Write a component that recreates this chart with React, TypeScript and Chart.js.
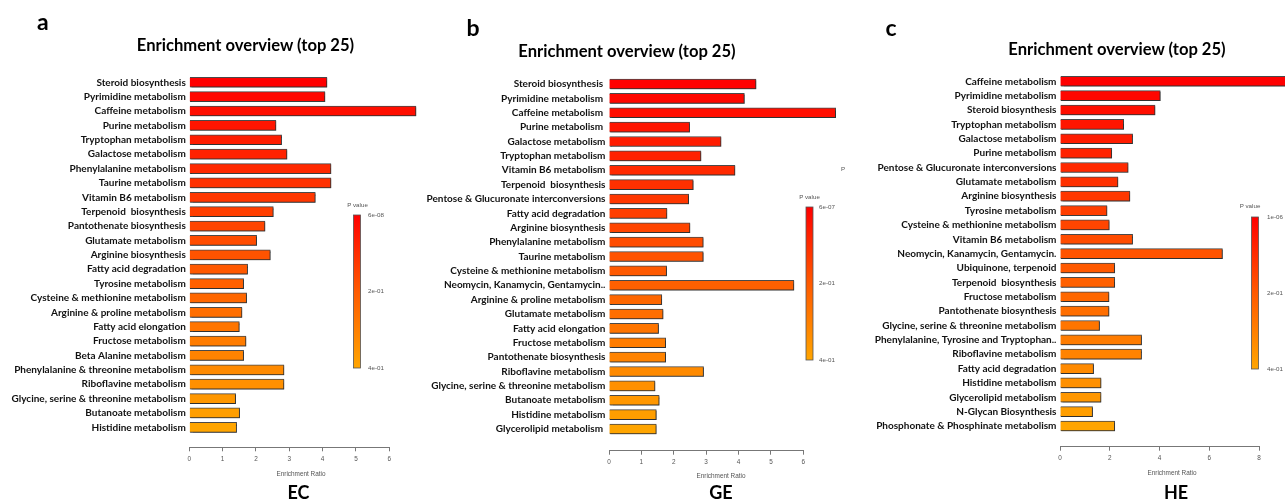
import React, { useEffect, useRef } from "react";
import { Chart, registerables } from "chart.js";

Chart.register(...registerables);

// ---------------- DATA ----------------
const ecLabels = [
  "Steroid biosynthesis",
  "Pyrimidine metabolism",
  "Caffeine metabolism",
  "Purine metabolism",
  "Tryptophan metabolism",
  "Galactose metabolism",
  "Phenylalanine metabolism",
  "Taurine metabolism",
  "Vitamin B6 metabolism",
  "Terpenoid  biosynthesis",
  "Pantothenate biosynthesis",
  "Glutamate metabolism",
  "Arginine biosynthesis",
  "Fatty acid degradation",
  "Tyrosine metabolism",
  "Cysteine & methionine metabolism",
  "Arginine & proline metabolism",
  "Fatty acid elongation",
  "Fructose metabolism",
  "Beta Alanine metabolism",
  "Phenylalanine & threonine metabolism",
  "Riboflavine metabolism",
  "Glycine, serine & threonine metabolism",
  "Butanoate metabolism",
  "Histidine metabolism",
];
const ecValues = [
  4.13, 4.07, 6.8, 2.6, 2.77, 2.93, 4.25, 4.25, 3.78, 2.52, 2.27, 2.02, 2.43,
  1.75, 1.63, 1.72, 1.58, 1.5, 1.7, 1.63, 2.84, 2.84, 1.39, 1.51, 1.42,
];

const geLabels = [
  "Steroid biosynthesis ",
  "Pyrimidine metabolism ",
  "Caffeine metabolism ",
  "Purine metabolism ",
  "Galactose metabolism",
  "Tryptophan metabolism",
  "Vitamin B6 metabolism",
  "Terpenoid  biosynthesis",
  "Pentose & Glucuronate interconversions",
  "Fatty acid degradation",
  "Arginine biosynthesis",
  "Phenylalanine metabolism",
  "Taurine metabolism",
  "Cysteine & methionine metabolism",
  "Neomycin, Kanamycin, Gentamycin..",
  "Arginine & proline metabolism",
  "Glutamate metabolism",
  "Fatty acid elongation",
  "Fructose metabolism",
  "Pantothenate biosynthesis",
  "Riboflavine metabolism",
  "Glycine, serine & threonine metabolism",
  "Butanoate metabolism",
  "Histidine metabolism",
  "Glycerolipid metabolism ",
];
const geValues = [
  4.54, 4.18, 7.0, 2.49, 3.46, 2.84, 3.89, 2.6, 2.46, 1.79, 2.5, 2.91, 2.91,
  1.78, 5.71, 1.63, 1.67, 1.53, 1.75, 1.75, 2.92, 1.42, 1.55, 1.46, 1.46,
];

const heLabels = [
  "Caffeine metabolism",
  "Pyrimidine metabolism",
  "Steroid biosynthesis",
  "Tryptophan metabolism",
  "Galactose metabolism",
  "Purine metabolism",
  "Pentose & Glucuronate interconversions",
  "Glutamate metabolism",
  "Arginine biosynthesis",
  "Tyrosine metabolism",
  "Cysteine & methionine metabolism",
  "Vitamin B6 metabolism",
  "Neomycin, Kanamycin, Gentamycin.",
  "Ubiquinone, terpenoid",
  "Terpenoid  biosynthesis",
  "Fructose metabolism",
  "Pantothenate biosynthesis",
  "Glycine, serine & threonine metabolism",
  "Phenylalanine, Tyrosine and Tryptophan..",
  "Riboflavine metabolism",
  "Fatty acid degradation",
  "Histidine metabolism",
  "Glycerolipid metabolism",
  "N-Glycan Biosynthesis",
  "Phosphonate & Phosphinate metabolism",
];
const heValues = [
  9.3, 4.03, 3.82, 2.56, 2.92, 2.08, 2.74, 2.33, 2.81, 1.89, 1.98, 2.92, 6.53,
  2.2, 2.2, 1.97, 1.97, 1.59, 3.28, 3.28, 1.35, 1.65, 1.65, 1.31, 2.2,
];

const ecTicks = [0, 1, 2, 3, 4, 5, 6];
const geTicks = [0, 1, 2, 3, 4, 5, 6];
const heTicks = [0, 2, 4, 6, 8];

const ecPLabels = ["6e-08", "2e-01", "4e-01"];
const gePLabels = ["6e-07", "2e-01", "4e-01"];
const hePLabels = ["1e-06", "2e-01", "4e-01"];

const panelLetters = ["a", "b", "c"];
const panelNames = ["EC", "GE", "HE"];
const titleText = "Enrichment overview (top 25)";
const xTitle = "Enrichment Ratio";
const legendTitle = "P value";

// ---------------- STYLE / LAYOUT ----------------
const H = 499;
const LATO = "Lato, 'Open Sans', sans-serif";
const SANS = "'Liberation Sans', Arial, sans-serif";

function barColors(n: number): string[] {
  const out: string[] = [];
  for (let i = 0; i < n; i++) {
    const g = Math.round((165 * i) / (n - 1));
    out.push(`rgb(255,${g},0)`);
  }
  return out;
}

type Spec = {
  left: number;
  width: number;
  plotLeft: number;
  plotRight: number;
  plotTop: number;
  axisY: number;
  yMax: number;
  xMax: number;
  labels: string[];
  values: number[];
  ticks: number[];
  pLabels: string[];
  cb: { x: number; y: number; w: number; h: number; titleX: number; titleY: number; labelX: number; extra?: { t: string; x: number; y: number } };
};

const specs: Spec[] = [
  {
    left: 0,
    width: 430,
    plotLeft: 189.3,
    plotRight: 389.3,
    plotTop: 75.1,
    axisY: 447.3,
    yMax: 25.39,
    xMax: 6,
    labels: ecLabels,
    values: ecValues,
    ticks: ecTicks,
    pLabels: ecPLabels,
    cb: { x: 353.5, y: 215, w: 7, h: 153, titleX: 357.5, titleY: 205, labelX: 368 },
  },
  {
    left: 420,
    width: 440,
    plotLeft: 189,
    plotRight: 383.3,
    plotTop: 76.8,
    axisY: 450.7,
    yMax: 25.51,
    xMax: 6,
    labels: geLabels,
    values: geValues,
    ticks: geTicks,
    pLabels: gePLabels,
    cb: { x: 386, y: 207, w: 7, h: 153, titleX: 389.5, titleY: 197, labelX: 399, extra: { t: "P", x: 421, y: 169 } },
  },
  {
    left: 860,
    width: 425,
    plotLeft: 200,
    plotRight: 399,
    plotTop: 74.1,
    axisY: 446.7,
    yMax: 25.44,
    xMax: 8,
    labels: heLabels,
    values: heValues,
    ticks: heTicks,
    pLabels: hePLabels,
    cb: { x: 391.5, y: 217, w: 7, h: 152, titleX: 390, titleY: 206, labelX: 407 },
  },
];

const X_AXIS_H = 20;

function BarPanel({ spec }: { spec: Spec }) {
  const ref = useRef<HTMLCanvasElement>(null);
  useEffect(() => {
    const canvas = ref.current;
    if (!canvas) return;
    const colors = barColors(spec.values.length);

    const shadowPlugin = {
      id: "barShadow",
      beforeDatasetsDraw(chart: any) {
        const c = chart.ctx;
        c.save();
        c.shadowColor = "rgba(0,0,0,0.35)";
        c.shadowOffsetX = 1;
        c.shadowOffsetY = 1;
        c.shadowBlur = 1;
      },
      afterDatasetsDraw(chart: any) {
        chart.ctx.restore();
      },
    };

    const colorbarPlugin = {
      id: "colorbar",
      afterDraw(chart: any) {
        const c = chart.ctx as CanvasRenderingContext2D;
        const cb = spec.cb;
        c.save();
        const grad = c.createLinearGradient(0, cb.y, 0, cb.y + cb.h);
        grad.addColorStop(0, "#ff0000");
        grad.addColorStop(0.5, "#ff5a00");
        grad.addColorStop(1, "#ffa500");
        c.fillStyle = grad;
        c.fillRect(cb.x, cb.y, cb.w, cb.h);
        c.strokeStyle = "#555";
        c.lineWidth = 0.8;
        c.strokeRect(cb.x, cb.y, cb.w, cb.h);
        c.fillStyle = "#555";
        c.font = `6.2px ${SANS}`;
        c.textBaseline = "middle";
        c.textAlign = "center";
        c.fillText(legendTitle, cb.titleX, cb.titleY);
        c.textAlign = "left";
        const ys = [cb.y, cb.y + cb.h / 2, cb.y + cb.h];
        spec.pLabels.forEach((t, i) => c.fillText(t, cb.labelX, ys[i]));
        if (cb.extra) {
          c.fillText(cb.extra.t, cb.extra.x, cb.extra.y);
        }
        c.restore();
      },
    };

    const chart = new Chart(canvas, {
      type: "bar",
      data: {
        datasets: [
          {
            data: spec.values.map((v, i) => ({ x: v, y: i })),
            backgroundColor: colors,
            borderColor: "#4a4a4a",
            borderWidth: 1,
            barThickness: 10,
            clip: false as any,
          } as any,
        ],
      },
      options: {
        indexAxis: "y",
        animation: false,
        responsive: false,
        maintainAspectRatio: false,
        devicePixelRatio: 1,
        events: [],
        layout: {
          padding: {
            left: 0,
            right: spec.width - spec.plotRight,
            top: spec.plotTop,
            bottom: H - spec.axisY - X_AXIS_H,
          },
        },
        plugins: {
          legend: { display: false },
          tooltip: { enabled: false },
          title: { display: false },
        },
        scales: {
          y: {
            type: "linear",
            reverse: true,
            offset: false,
            bounds: "data",
            min: -0.5,
            max: spec.yMax,
            afterFit: (s: any) => {
              s.width = spec.plotLeft;
            },
            afterBuildTicks: (s: any) => {
              s.ticks = spec.labels.map((_, i) => ({ value: i }));
            },
            grid: { display: false, drawTicks: false, tickLength: 0, offset: false },
            border: { display: false },
            ticks: {
              autoSkip: false,
              padding: 3.5,
              color: "#111",
              font: { family: LATO, weight: "bold", size: 10 },
              callback: (_v: any, i: number) => spec.labels[i],
            },
          },
          x: {
            type: "linear",
            offset: false,
            bounds: "data",
            min: 0,
            max: spec.xMax,
            afterFit: (s: any) => {
              s.height = X_AXIS_H;
            },
            afterBuildTicks: (s: any) => {
              s.ticks = spec.ticks.map((v) => ({ value: v }));
            },
            grid: {
              display: true,
              drawOnChartArea: false,
              drawTicks: true,
              tickLength: 4,
              color: "#777",
              lineWidth: 1,
            },
            border: { display: true, color: "#777", width: 1 },
            ticks: {
              autoSkip: false,
              maxRotation: 0,
              padding: 4,
              color: "#555",
              font: { family: SANS, size: 6.4 },
              callback: (v: any) => String(v),
            },
          },
        },
      } as any,
      plugins: [shadowPlugin, colorbarPlugin],
    });
    return () => chart.destroy();
  }, [spec]);
  return (
    <canvas
      ref={ref}
      width={spec.width}
      height={H}
      style={{ position: "absolute", left: spec.left, top: 0, width: spec.width, height: H }}
    />
  );
}

function Txt({
  x,
  y,
  size,
  bold,
  family,
  color,
  align,
  children,
}: {
  x: number;
  y: number;
  size: number;
  bold?: boolean;
  family: string;
  color: string;
  align: "left" | "center";
  children: React.ReactNode;
}) {
  const k = family === LATO ? 0.887 : 0.8465;
  return (
    <div
      style={{
        position: "absolute",
        left: x,
        top: y - k * size,
        fontFamily: family,
        fontSize: size,
        fontWeight: bold ? 700 : 400,
        lineHeight: 1,
        color,
        whiteSpace: "pre",
        transform: align === "center" ? "translateX(-50%)" : undefined,
      }}
    >
      {children}
    </div>
  );
}

const letterPos = [
  { x: 37, y: 30 },
  { x: 466.5, y: 36 },
  { x: 885.5, y: 36 },
];
const titlePos = [
  { x: 245.5, y: 52 },
  { x: 627, y: 58 },
  { x: 1117, y: 55.5 },
];
const xTitlePos = [
  { x: 301, y: 476 },
  { x: 721, y: 478 },
  { x: 1172, y: 475 },
];
const namePos = [
  { x: 298.5, y: 498.5 },
  { x: 721, y: 499 },
  { x: 1176, y: 499 },
];

export default function App() {
  return (
    <div
      style={{
        position: "fixed",
        left: 0,
        top: 0,
        width: 1285,
        height: H,
        background: "#fff",
        overflow: "hidden",
      }}
    >
      {specs.map((s, i) => (
        <BarPanel key={i} spec={s} />
      ))}
      {panelLetters.map((t, i) => (
        <Txt key={"l" + i} x={letterPos[i].x} y={letterPos[i].y} size={23} bold family={LATO} color="#000" align="left">
          {t}
        </Txt>
      ))}
      {titlePos.map((p, i) => (
        <Txt key={"t" + i} x={p.x} y={p.y} size={16.6} bold family={LATO} color="#000" align="center">
          {titleText}
        </Txt>
      ))}
      {xTitlePos.map((p, i) => (
        <Txt key={"x" + i} x={p.x} y={p.y} size={6.4} family={SANS} color="#555" align="center">
          {xTitle}
        </Txt>
      ))}
      {panelNames.map((t, i) => (
        <Txt key={"n" + i} x={namePos[i].x} y={namePos[i].y} size={18} bold family={LATO} color="#000" align="center">
          {t}
        </Txt>
      ))}
    </div>
  );
}
